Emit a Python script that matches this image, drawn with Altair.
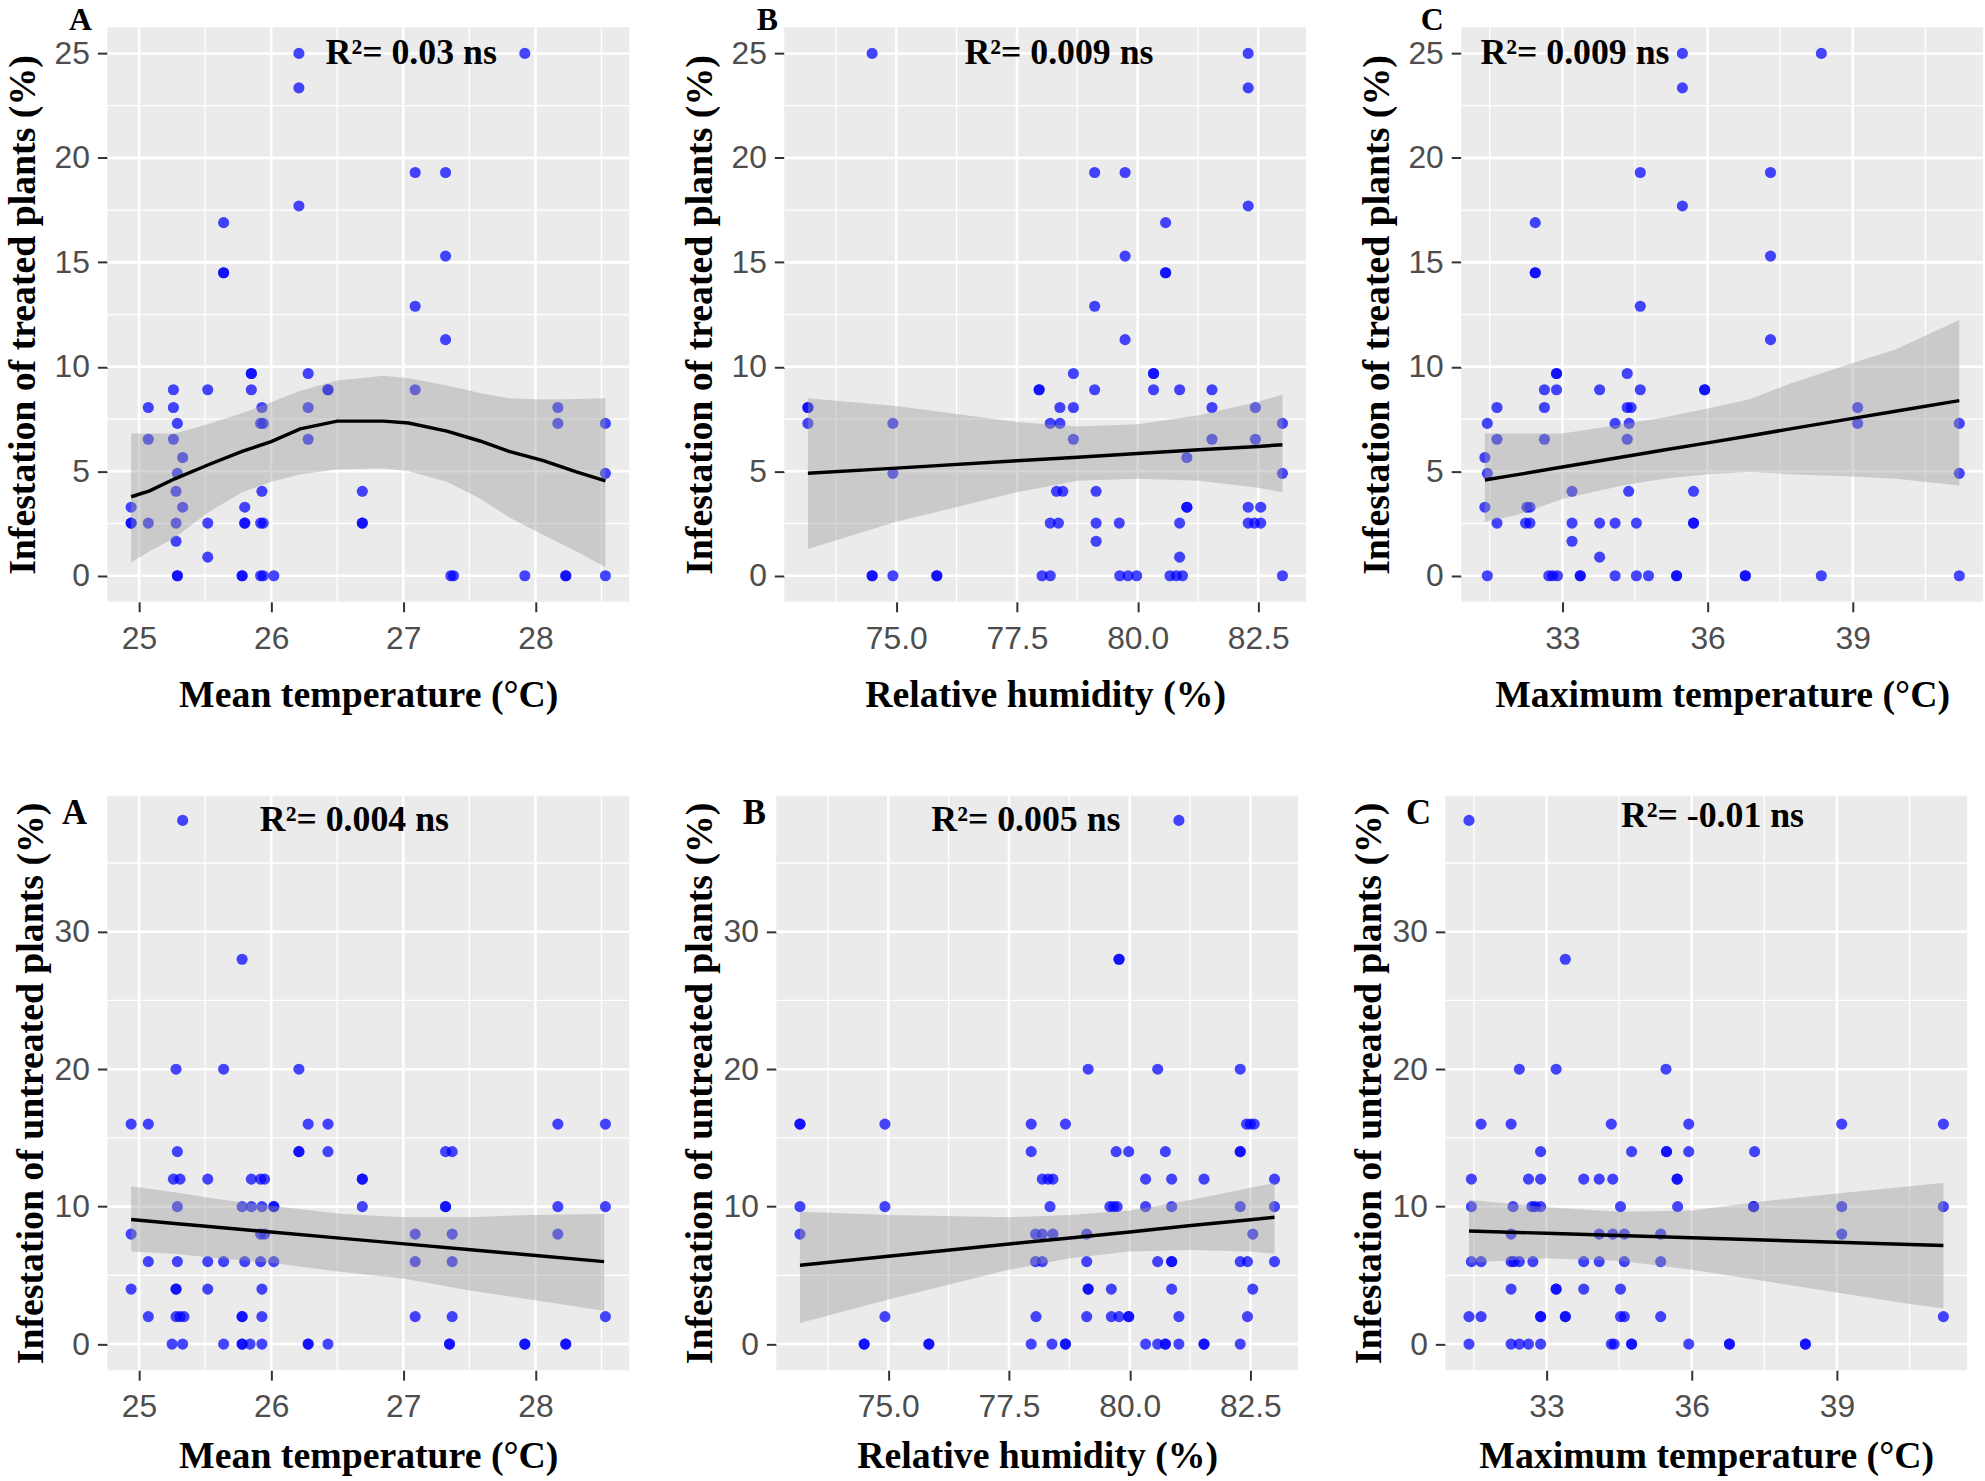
import altair as alt
import pandas as pd

# ---------------------------------------------------------------- data
# Infestation of treated plants (%) against the three weather variables
TREATED_MEAN_T = [
    (26.21, 25.0), (27.92, 25.0), (26.21, 23.35), (27.09, 19.3), (27.32, 19.3), (26.21, 17.7),
    (25.64, 16.9), (25.64, 14.5), (25.64, 14.5), (27.32, 15.3), (27.09, 12.9), (27.32, 11.3),
    (25.85, 9.68), (25.85, 9.68), (26.28, 9.68),
    (25.26, 8.9), (25.52, 8.9), (25.85, 8.9), (26.43, 8.9), (26.43, 8.9), (27.09, 8.9),
    (25.07, 8.05), (25.26, 8.05), (25.93, 8.05), (26.28, 8.05), (28.17, 8.05),
    (25.29, 7.29), (25.92, 7.29), (25.94, 7.29), (28.17, 7.29), (28.53, 7.29),
    (25.07, 6.53), (25.26, 6.53), (26.28, 6.53),
    (25.33, 5.66), (25.29, 4.9), (28.53, 4.9),
    (25.28, 4.04), (25.93, 4.04), (26.69, 4.04),
    (24.94, 3.28), (25.33, 3.28), (25.80, 3.28),
    (24.94, 2.52), (24.94, 2.52), (25.07, 2.52), (25.28, 2.52), (25.52, 2.52), (25.80, 2.52),
    (25.80, 2.52), (25.92, 2.52), (25.94, 2.52), (26.69, 2.52), (26.69, 2.52),
    (25.28, 1.65), (25.52, 0.89),
    (25.29, 0), (25.29, 0), (25.78, 0), (25.78, 0), (25.92, 0), (25.94, 0), (26.02, 0),
    (27.36, 0), (27.38, 0), (27.92, 0), (28.23, 0), (28.23, 0), (28.53, 0),
]
TREATED_RH = [
    (74.50, 25.0), (82.29, 25.0), (82.29, 23.35), (79.11, 19.3), (79.74, 19.3), (82.29, 17.7),
    (80.58, 16.9), (80.58, 14.5), (80.58, 14.5), (79.74, 15.3), (79.11, 12.9), (79.74, 11.3),
    (78.67, 9.68), (80.33, 9.68), (80.33, 9.68),
    (77.96, 8.9), (77.96, 8.9), (79.11, 8.9), (80.33, 8.9), (80.87, 8.9), (81.54, 8.9),
    (73.17, 8.05), (73.17, 8.05), (78.39, 8.05), (78.67, 8.05), (81.54, 8.05), (82.44, 8.05),
    (73.17, 7.29), (74.93, 7.29), (78.19, 7.29), (78.39, 7.29), (83.0, 7.29),
    (78.67, 6.53), (81.54, 6.53), (82.44, 6.53),
    (81.02, 5.66), (74.93, 4.9), (83.0, 4.9),
    (78.32, 4.04), (78.45, 4.04), (79.14, 4.04),
    (81.02, 3.28), (81.02, 3.28), (82.29, 3.28), (82.55, 3.28),
    (78.19, 2.52), (78.36, 2.52), (79.14, 2.52), (79.62, 2.52), (80.87, 2.52), (82.29, 2.52),
    (82.42, 2.52), (82.55, 2.52),
    (79.14, 1.65), (80.87, 0.89),
    (74.50, 0), (74.50, 0), (74.93, 0), (75.84, 0), (75.84, 0), (78.02, 0), (78.19, 0),
    (79.63, 0), (79.80, 0), (79.98, 0), (80.67, 0), (80.80, 0), (80.93, 0), (83.0, 0),
]
TREATED_MAX_T = [
    (35.48, 25.0), (38.35, 25.0), (35.48, 23.35), (34.61, 19.3), (37.30, 19.3), (35.48, 17.7),
    (32.44, 16.9), (32.44, 14.5), (32.44, 14.5), (37.30, 15.3), (34.61, 12.9), (37.30, 11.3),
    (32.88, 9.68), (32.88, 9.68), (34.34, 9.68),
    (32.63, 8.9), (32.88, 8.9), (33.77, 8.9), (34.61, 8.9), (35.94, 8.9), (35.94, 8.9),
    (31.65, 8.05), (32.63, 8.05), (34.34, 8.05), (34.42, 8.05), (39.10, 8.05),
    (31.45, 7.29), (34.09, 7.29), (34.38, 7.29), (39.10, 7.29), (41.20, 7.29),
    (31.65, 6.53), (32.63, 6.53), (34.34, 6.53),
    (31.40, 5.66), (31.45, 4.9), (41.20, 4.9),
    (33.20, 4.04), (34.37, 4.04), (35.71, 4.04),
    (31.40, 3.28), (32.27, 3.28), (32.33, 3.28),
    (31.65, 2.52), (32.24, 2.52), (32.33, 2.52), (33.20, 2.52), (33.77, 2.52), (34.09, 2.52),
    (34.53, 2.52), (35.71, 2.52), (35.71, 2.52),
    (33.20, 1.65), (33.77, 0.89),
    (31.45, 0), (32.72, 0), (32.80, 0), (32.90, 0), (33.37, 0), (33.37, 0), (34.09, 0),
    (34.53, 0), (34.78, 0), (35.36, 0), (35.36, 0), (36.78, 0), (36.78, 0), (38.35, 0), (41.20, 0),
]

# Infestation of untreated plants (%) against the three weather variables
UNTREATED_MEAN_T = [
    (25.33, 38.1), (25.78, 28.0),
    (25.28, 20), (25.64, 20), (26.21, 20),
    (24.94, 16), (25.07, 16), (26.28, 16), (26.43, 16), (28.17, 16), (28.53, 16),
    (25.29, 14), (26.21, 14), (26.21, 14), (26.43, 14), (27.32, 14), (27.37, 14),
    (25.26, 12), (25.31, 12), (25.52, 12), (25.85, 12), (25.92, 12), (25.95, 12), (26.69, 12), (26.69, 12),
    (25.29, 10), (25.78, 10), (25.85, 10), (25.93, 10), (26.02, 10), (26.02, 10), (26.69, 10),
    (27.32, 10), (27.32, 10), (28.17, 10), (28.53, 10),
    (24.94, 8), (25.92, 8), (25.95, 8), (27.09, 8), (27.37, 8), (28.17, 8),
    (25.07, 6), (25.29, 6), (25.52, 6), (25.64, 6), (25.80, 6), (25.92, 6), (26.02, 6), (27.09, 6), (27.37, 6),
    (24.94, 4), (25.28, 4), (25.28, 4), (25.52, 4), (25.93, 4),
    (25.07, 2), (25.28, 2), (25.31, 2), (25.34, 2), (25.78, 2), (25.78, 2), (25.93, 2),
    (27.09, 2), (27.37, 2), (28.53, 2),
    (25.25, 0), (25.33, 0), (25.64, 0), (25.78, 0), (25.78, 0), (25.84, 0), (25.93, 0), (26.28, 0),
    (26.28, 0), (26.43, 0), (27.35, 0), (27.35, 0), (27.92, 0), (27.92, 0), (28.23, 0), (28.23, 0),
]
UNTREATED_RH = [
    (81.02, 38.1), (79.78, 28.0), (79.78, 28.0),
    (79.14, 20), (80.58, 20), (82.29, 20),
    (73.17, 16), (73.17, 16), (74.93, 16), (77.96, 16), (78.67, 16), (82.42, 16), (82.50, 16), (82.58, 16),
    (77.96, 14), (79.72, 14), (79.98, 14), (80.74, 14), (82.29, 14), (82.29, 14),
    (78.19, 12), (78.31, 12), (78.41, 12), (80.33, 12), (80.87, 12), (81.54, 12), (83.0, 12),
    (73.17, 10), (74.93, 10), (78.35, 10), (79.59, 10), (79.67, 10), (79.74, 10), (80.33, 10),
    (80.87, 10), (82.29, 10), (83.0, 10),
    (73.17, 8), (78.05, 8), (78.19, 8), (78.41, 8), (79.11, 8), (82.55, 8),
    (78.05, 6), (78.19, 6), (79.11, 6), (80.58, 6), (80.87, 6), (80.87, 6), (82.29, 6), (82.44, 6), (83.0, 6),
    (79.14, 4), (79.14, 4), (79.62, 4), (80.87, 4), (82.55, 4),
    (74.93, 2), (78.06, 2), (79.11, 2), (79.62, 2), (79.78, 2), (79.98, 2), (79.98, 2), (81.02, 2), (82.44, 2),
    (74.50, 0), (74.50, 0), (75.84, 0), (75.84, 0), (77.96, 0), (78.39, 0), (78.67, 0), (78.67, 0),
    (80.33, 0), (80.58, 0), (80.74, 0), (80.74, 0), (81.02, 0), (81.54, 0), (81.54, 0), (82.29, 0),
]
UNTREATED_MAX_T = [
    (31.40, 38.1), (33.39, 28.0),
    (32.44, 20), (33.20, 20), (35.47, 20),
    (31.65, 16), (32.27, 16), (34.34, 16), (35.94, 16), (39.10, 16), (41.20, 16),
    (32.88, 14), (34.76, 14), (35.48, 14), (35.48, 14), (35.94, 14), (37.30, 14),
    (31.45, 12), (32.63, 12), (32.88, 12), (33.77, 12), (34.09, 12), (34.37, 12), (35.70, 12), (35.70, 12),
    (31.45, 10), (32.31, 10), (32.70, 10), (32.77, 10), (32.88, 10), (34.53, 10), (35.71, 10),
    (37.28, 10), (37.28, 10), (39.10, 10), (41.20, 10),
    (32.27, 8), (34.09, 8), (34.37, 8), (34.61, 8), (35.36, 8), (39.10, 8),
    (31.45, 6), (31.65, 6), (32.27, 6), (32.33, 6), (32.44, 6), (32.72, 6), (33.77, 6), (34.09, 6),
    (34.61, 6), (35.36, 6),
    (32.27, 4), (33.20, 4), (33.20, 4), (33.77, 4), (34.53, 4),
    (31.40, 2), (31.65, 2), (32.88, 2), (32.88, 2), (33.39, 2), (33.39, 2), (34.53, 2), (34.61, 2),
    (35.36, 2), (41.20, 2),
    (31.40, 0), (32.27, 0), (32.44, 0), (32.63, 0), (32.88, 0), (34.34, 0), (34.40, 0), (34.76, 0),
    (34.76, 0), (35.94, 0), (36.78, 0), (36.78, 0), (38.35, 0), (38.35, 0),
]

# Fitted curves with their 95 % confidence bands: x, fit, lower, upper
FIT_T_MEAN_X = [24.94, 25.08, 25.27, 25.52, 25.78, 26.0, 26.22, 26.5, 26.85, 27.04, 27.33, 27.58, 27.8, 28.06, 28.31, 28.53]
FIT_T_MEAN_Y = [3.78, 4.06, 4.64, 5.30, 5.95, 6.42, 7.03, 7.40, 7.40, 7.31, 6.92, 6.45, 5.95, 5.51, 4.97, 4.54]
FIT_T_MEAN_LO = [0.63, 1.17, 1.82, 3.02, 3.99, 4.50, 4.85, 5.08, 5.14, 5.00, 4.50, 3.70, 2.80, 1.95, 1.17, 0.41]
FIT_T_MEAN_HI = [6.81, 6.81, 6.81, 7.25, 7.79, 8.30, 8.85, 9.35, 9.57, 9.45, 9.10, 8.75, 8.49, 8.44, 8.46, 8.49]

FIT_T_RH_X = [73.17, 75.0, 77.5, 78.76, 80.0, 81.27, 82.5, 83.0]
FIT_T_RH_Y = [4.90, 5.15, 5.50, 5.67, 5.85, 6.03, 6.19, 6.27]
FIT_T_RH_LO = [1.28, 2.58, 3.99, 4.54, 4.64, 4.54, 4.21, 3.99]
FIT_T_RH_HI = [8.49, 8.12, 7.36, 7.14, 7.25, 7.68, 8.33, 8.66]

FIT_T_MAX_X = [31.40, 32.07, 33.0, 34.24, 35.1, 36.0, 36.85, 37.71, 39.0, 39.88, 41.2]
FIT_T_MAX_Y = [4.58, 4.84, 5.20, 5.68, 6.02, 6.36, 6.69, 7.03, 7.53, 7.87, 8.38]
FIT_T_MAX_LO = [2.58, 2.91, 3.67, 4.32, 4.64, 4.86, 4.97, 4.86, 4.75, 4.64, 4.32]
FIT_T_MAX_HI = [6.81, 6.81, 6.81, 7.25, 7.57, 8.00, 8.44, 9.20, 10.18, 10.83, 12.24]

FIT_U_MEAN_X = [24.94, 25.27, 25.59, 26.0, 26.54, 27.01, 27.49, 27.96, 28.52]
FIT_U_MEAN_Y = [9.06, 8.78, 8.50, 8.15, 7.69, 7.29, 6.88, 6.48, 6.00]
FIT_U_MEAN_LO = [6.74, 6.57, 6.24, 5.91, 5.24, 4.75, 3.92, 3.25, 2.42]
FIT_U_MEAN_HI = [11.48, 11.05, 10.55, 10.06, 9.46, 9.23, 9.23, 9.39, 9.46]

FIT_U_RH_X = [73.17, 75.0, 77.5, 78.76, 80.0, 81.27, 82.5, 83.0]
FIT_U_RH_Y = [5.74, 6.39, 7.28, 7.72, 8.16, 8.62, 9.05, 9.23]
FIT_U_RH_LO = [1.53, 3.25, 5.41, 6.24, 6.74, 6.84, 6.74, 6.57]
FIT_U_RH_HI = [9.62, 9.39, 9.23, 9.39, 9.72, 10.49, 11.38, 11.72]

FIT_U_MAX_X = [31.40, 33.0, 34.5, 36.0, 37.5, 39.0, 40.5, 41.2]
FIT_U_MAX_Y = [8.23, 8.06, 7.90, 7.73, 7.57, 7.41, 7.25, 7.17]
FIT_U_MAX_LO = [5.91, 6.24, 6.07, 5.41, 4.58, 3.75, 2.92, 2.59]
FIT_U_MAX_HI = [10.49, 9.96, 9.62, 9.72, 10.39, 10.95, 11.48, 11.72]

# Axis breaks
MEAN_T_TICKS = [25, 26, 27, 28]
MEAN_T_MINOR = [25.5, 26.5, 27.5, 28.5]
RH_TICKS = [75.0, 77.5, 80.0, 82.5]
RH_MINOR = [73.75, 76.25, 78.75, 81.25]
MAX_T_TICKS = [33, 36, 39]
MAX_T_MINOR = [31.5, 34.5, 37.5, 40.5]
TREATED_TICKS = [0, 5, 10, 15, 20, 25]
TREATED_MINOR = [2.5, 7.5, 12.5, 17.5, 22.5]
UNTREATED_TICKS = [0, 10, 20, 30]
UNTREATED_MINOR = [5, 15, 25, 35]

R2_TREATED = ["R\u00b2= 0.03 ns", "R\u00b2= 0.009 ns", "R\u00b2= 0.009 ns"]
R2_UNTREATED = ["R\u00b2= 0.004 ns", "R\u00b2= 0.005 ns", "R\u00b2= -0.01 ns"]
LETTERS = ["A", "B", "C"]

# ---------------------------------------------------------------- style
PANEL_W = 525
PANEL_H = 578
SERIF = "Liberation Serif"
SANS = "Liberation Sans"
PANEL_BG = "#EBEBEB"
POINT_BLUE = "#0000FF"


def panel(points, fx, fy, flo, fhi, xdom, ydom, xticks, xminor, yticks, yminor,
          xfmt, xtitle, ytitle, r2, r2xy, letter, letter_xy, letter_size,
          xtitle_pad, ytitle_pad):
    xs = alt.Scale(domain=xdom, nice=False, zero=False)
    ys = alt.Scale(domain=ydom, nice=False, zero=False)
    x_axis = alt.Axis(
        values=xticks, format=xfmt, title=xtitle, grid=False, domain=False,
        tickSize=10, tickWidth=2, tickColor="#333333",
        labelFont=SANS, labelFontSize=32, labelColor="#4D4D4D", labelPadding=12,
        labelFlush=False, labelOverlap=False,
        titleFont=SERIF, titleFontSize=38, titleFontWeight="bold", titleColor="black",
        titlePadding=xtitle_pad,
    )
    y_axis = alt.Axis(
        values=yticks, format="d", title=ytitle, grid=False, domain=False,
        tickSize=10, tickWidth=2, tickColor="#333333",
        labelFont=SANS, labelFontSize=32, labelColor="#4D4D4D", labelPadding=8,
        labelFlush=False, labelOverlap=False,
        titleFont=SERIF, titleFontSize=38, titleFontWeight="bold", titleColor="black",
        titlePadding=ytitle_pad,
    )
    X = lambda f="x": alt.X(f"{f}:Q", scale=xs, axis=x_axis, title=xtitle)
    Y = lambda f="y": alt.Y(f"{f}:Q", scale=ys, axis=y_axis, title=ytitle)

    vminor = alt.Chart(pd.DataFrame({"x": xminor})).mark_rule(color="white", strokeWidth=1.3).encode(x=X())
    vmajor = alt.Chart(pd.DataFrame({"x": xticks})).mark_rule(color="white", strokeWidth=2.6).encode(x=X())
    hminor = alt.Chart(pd.DataFrame({"y": yminor})).mark_rule(color="white", strokeWidth=1.3).encode(y=Y())
    hmajor = alt.Chart(pd.DataFrame({"y": yticks})).mark_rule(color="white", strokeWidth=2.6).encode(y=Y())

    pts = alt.Chart(pd.DataFrame(points, columns=["x", "y"])).mark_circle(
        color=POINT_BLUE, opacity=0.72, size=125
    ).encode(x=X(), y=Y())

    fit = pd.DataFrame({"x": fx, "y": fy, "lo": flo, "hi": fhi})
    band = alt.Chart(fit).mark_area(color="#999999", opacity=0.4).encode(
        x=X(), y=Y("lo"), y2="hi:Q"
    )
    line = alt.Chart(fit).mark_line(color="black", strokeWidth=3.5).encode(x=X(), y=Y())

    label = alt.Chart(pd.DataFrame({"x": [r2xy[0]], "y": [r2xy[1]], "t": [r2]})).mark_text(
        font=SERIF, fontWeight="bold", fontSize=36, color="black", align="center", baseline="middle"
    ).encode(x=X(), y=Y(), text="t:N")

    tag = alt.Chart(pd.DataFrame({"t": [letter]})).mark_text(
        font=SERIF, fontWeight="bold", fontSize=letter_size, color="black",
        align="center", baseline="alphabetic"
    ).encode(x=alt.value(letter_xy[0]), y=alt.value(letter_xy[1]), text="t:N")

    return alt.layer(vminor, vmajor, hminor, hmajor, pts, band, line, label, tag).properties(
        width=PANEL_W, height=PANEL_H
    )


TOP_YDOM = [-1.25, 26.25]
BOT_YDOM = [-1.9, 39.9]
MEAN_T_DOM = [24.76, 28.71]
RH_DOM = [72.68, 83.49]
MAX_T_DOM = [30.91, 41.69]

T_TITLE = "Infestation of treated plants (%)"
U_TITLE = "Infestation of untreated plants (%)"
X_MEAN = "Mean temperature (\u00b0C)"
X_RH = "Relative humidity (%)"
X_MAX = "Maximum temperature (\u00b0C)"

top_letter_pos = [(-27, 3), (-17, 3), (-29, 3)]
bot_letter_pos = [(-33, 29), (-22, 29), (-27, 29)]

top = alt.hconcat(
    panel(TREATED_MEAN_T, FIT_T_MEAN_X, FIT_T_MEAN_Y, FIT_T_MEAN_LO, FIT_T_MEAN_HI,
          MEAN_T_DOM, TOP_YDOM, MEAN_T_TICKS, MEAN_T_MINOR, TREATED_TICKS, TREATED_MINOR,
          "d", X_MEAN, T_TITLE, R2_TREATED[0], (27.06, 25), LETTERS[0], top_letter_pos[0], 32, 22, 12),
    panel(TREATED_RH, FIT_T_RH_X, FIT_T_RH_Y, FIT_T_RH_LO, FIT_T_RH_HI,
          RH_DOM, TOP_YDOM, RH_TICKS, RH_MINOR, TREATED_TICKS, TREATED_MINOR,
          ".1f", X_RH, T_TITLE, R2_TREATED[1], (78.37, 25), LETTERS[1], top_letter_pos[1], 32, 22, 12),
    panel(TREATED_MAX_T, FIT_T_MAX_X, FIT_T_MAX_Y, FIT_T_MAX_LO, FIT_T_MAX_HI,
          MAX_T_DOM, TOP_YDOM, MAX_T_TICKS, MAX_T_MINOR, TREATED_TICKS, TREATED_MINOR,
          "d", X_MAX, T_TITLE, R2_TREATED[2], (33.26, 25), LETTERS[2], top_letter_pos[2], 32, 22, 12),
    spacing=50,
)

bottom = alt.hconcat(
    panel(UNTREATED_MEAN_T, FIT_U_MEAN_X, FIT_U_MEAN_Y, FIT_U_MEAN_LO, FIT_U_MEAN_HI,
          MEAN_T_DOM, BOT_YDOM, MEAN_T_TICKS, MEAN_T_MINOR, UNTREATED_TICKS, UNTREATED_MINOR,
          "d", X_MEAN, U_TITLE, R2_UNTREATED[0], (26.63, 38.1), LETTERS[0], bot_letter_pos[0], 35, 15, 4),
    panel(UNTREATED_RH, FIT_U_RH_X, FIT_U_RH_Y, FIT_U_RH_LO, FIT_U_RH_HI,
          RH_DOM, BOT_YDOM, RH_TICKS, RH_MINOR, UNTREATED_TICKS, UNTREATED_MINOR,
          ".1f", X_RH, U_TITLE, R2_UNTREATED[1], (77.85, 38.1), LETTERS[1], bot_letter_pos[1], 35, 15, 4),
    panel(UNTREATED_MAX_T, FIT_U_MAX_X, FIT_U_MAX_Y, FIT_U_MAX_LO, FIT_U_MAX_HI,
          MAX_T_DOM, BOT_YDOM, MAX_T_TICKS, MAX_T_MINOR, UNTREATED_TICKS, UNTREATED_MINOR,
          "d", X_MAX, U_TITLE, R2_UNTREATED[2], (36.43, 38.4), LETTERS[2], bot_letter_pos[2], 35, 15, 4),
    spacing=50,
)

chart = alt.vconcat(top, bottom, spacing=80).properties(
    padding={"left": 4, "top": 0, "right": 0, "bottom": 0},
    background="white",
).configure_view(fill=PANEL_BG, stroke=None)

chart.save("out.html", embed_options={"renderer": "svg", "actions": False})
